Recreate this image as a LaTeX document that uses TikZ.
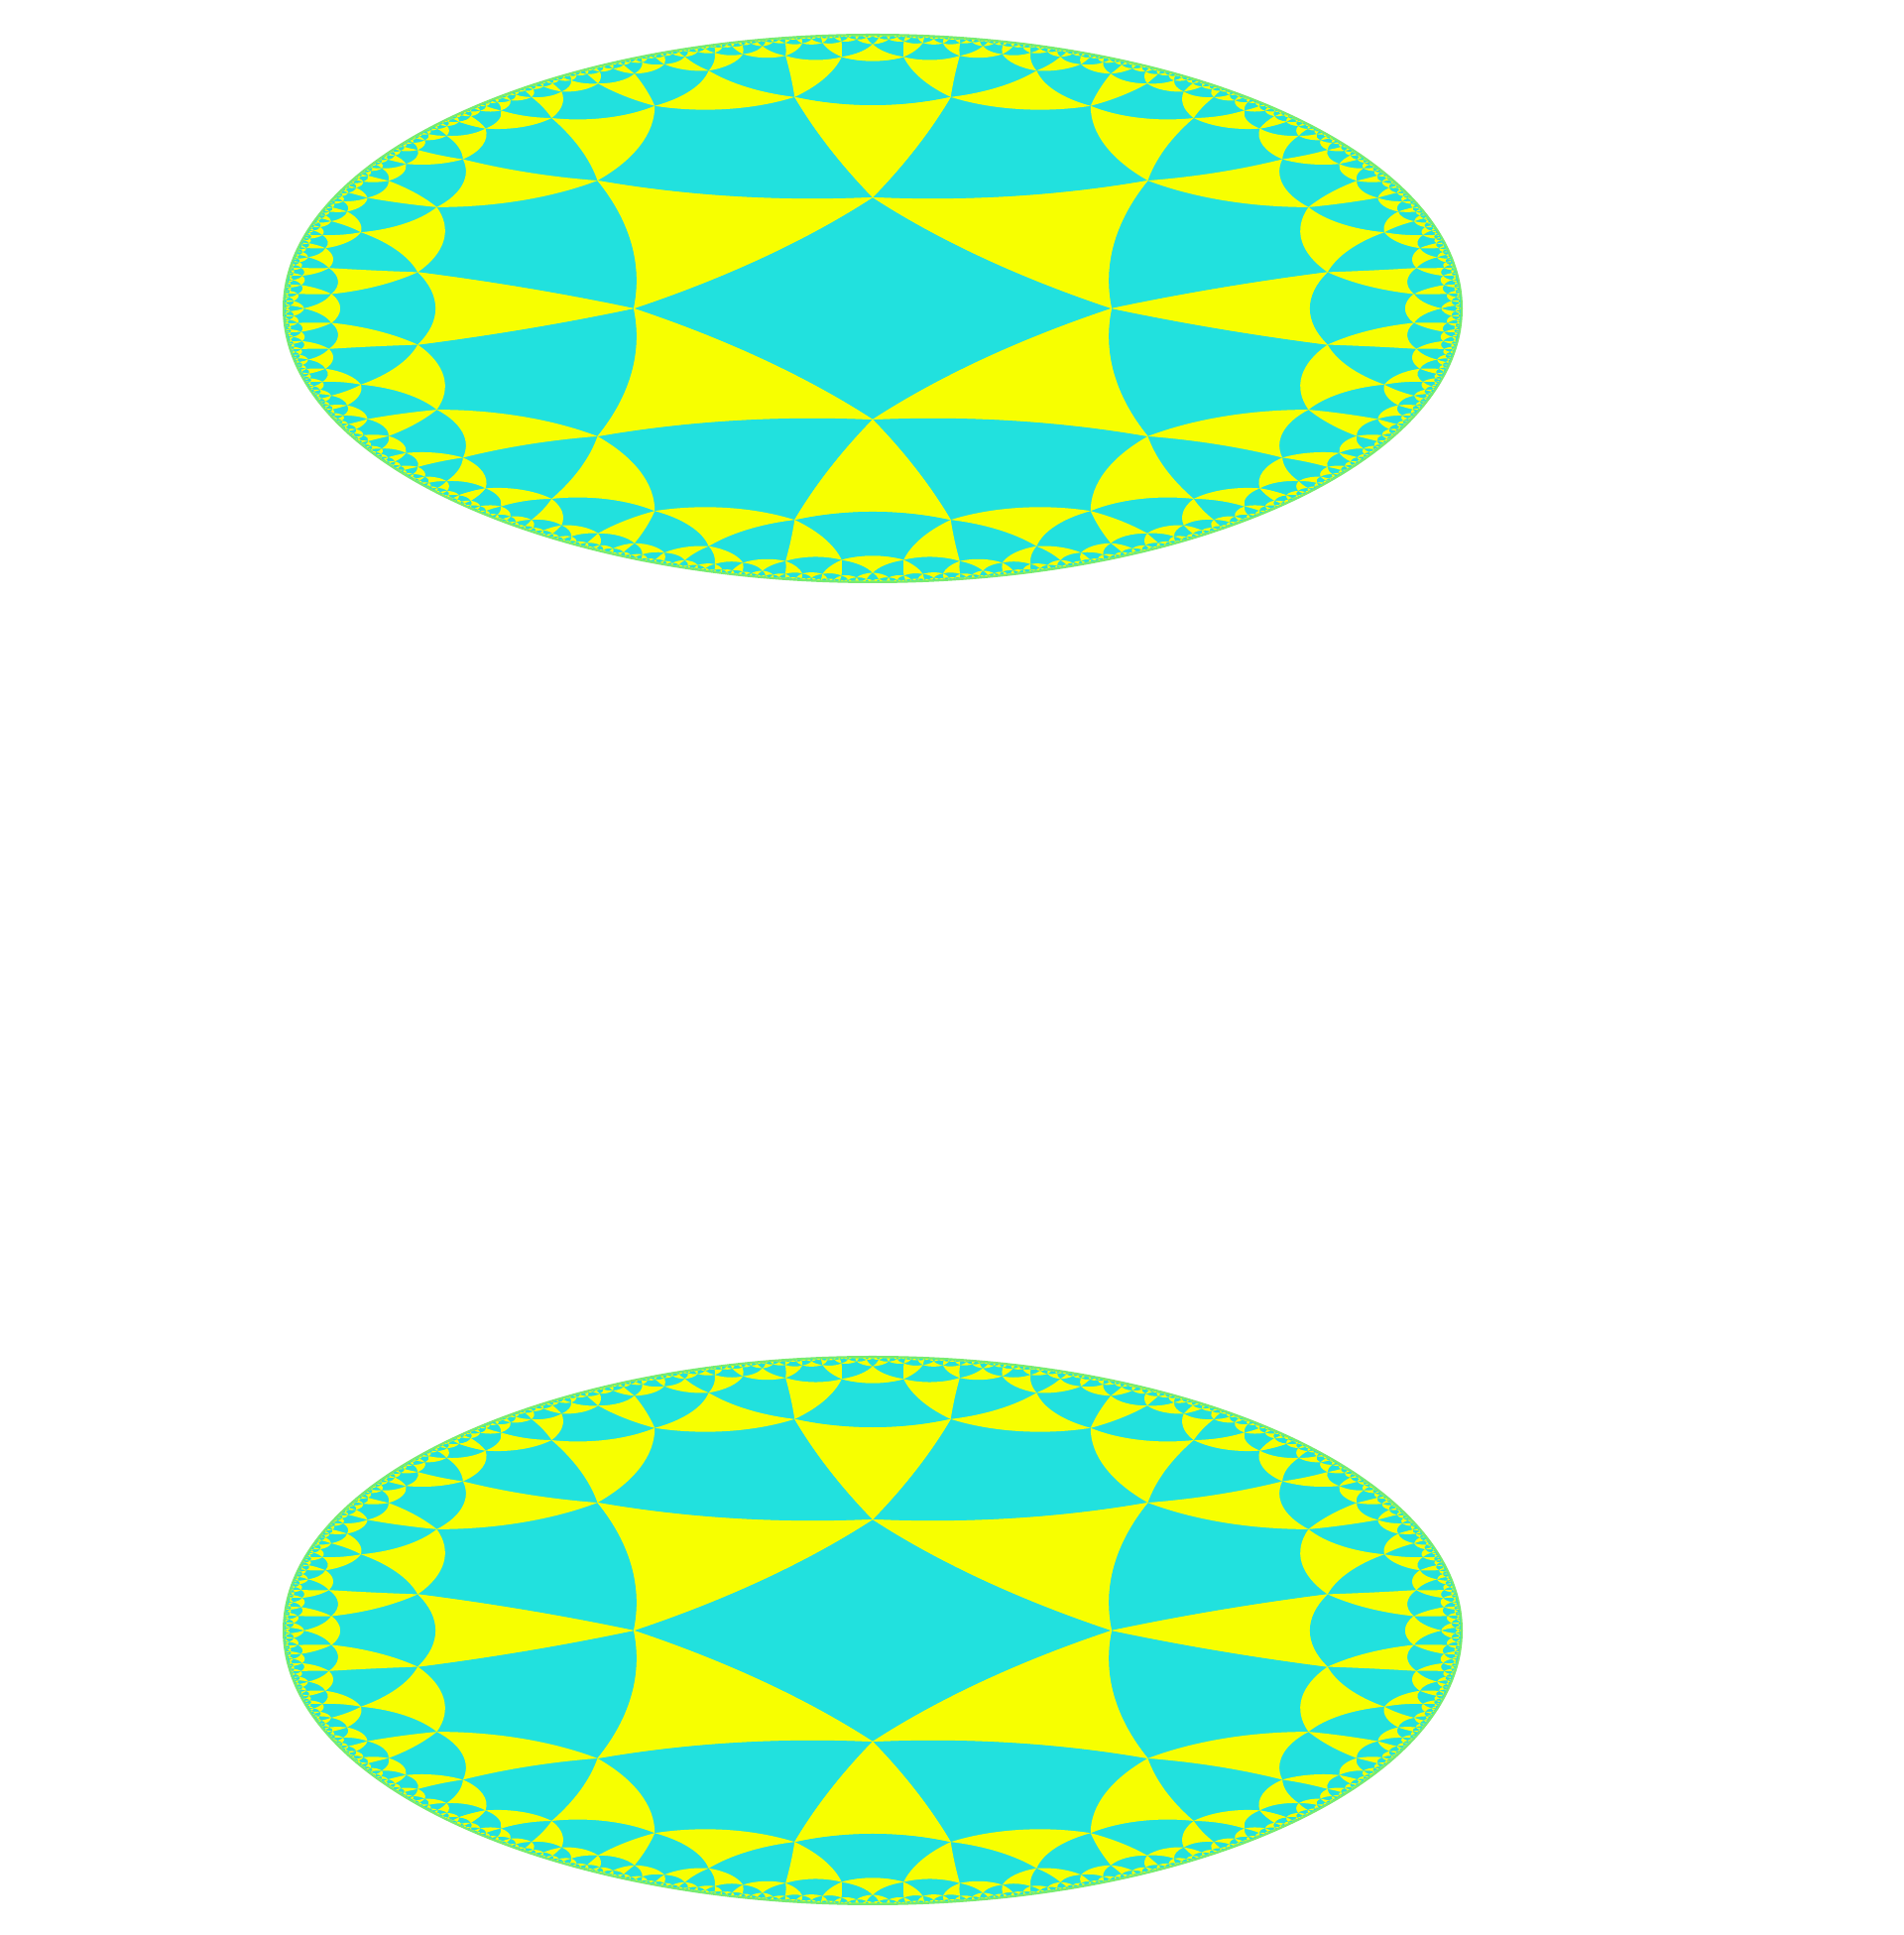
\documentclass[tikz,border=0pt]{standalone}
\definecolor{tcyan}{RGB}{33,225,222}
\definecolor{tyellow}{RGB}{247,255,0}
\definecolor{tedge}{RGB}{120,235,112}
\ExplSyntaxOn
\int_new:N \g_ht_head_int
\int_new:N \g_ht_tail_int
\int_new:N \g_ht_tri_int
\int_new:N \l_ht_m_int
\int_new:N \l_ht_nm_int
\fp_new:N \l_ht_cx_fp
\fp_new:N \l_ht_cy_fp
\fp_new:N \l_ht_det_fp
\fp_new:N \l_ht_gx_fp
\fp_new:N \l_ht_gy_fp
\fp_new:N \l_ht_s_fp
\fp_new:N \l_ht_t_fp
\fp_new:N \l_ht_ux_fp
\fp_new:N \l_ht_uy_fp
\fp_new:N \l_ht_vx_fp
\fp_new:N \l_ht_vy_fp
\fp_new:N \l_ht_wx_fp
\fp_new:N \l_ht_wy_fp
\fp_new:N \l_ht_k_fp
\bool_new:N \l_ht_line_bool
\tl_new:N \l_ht_key_tl
\tl_new:N \l_ht_path_tl
\tl_new:N \l_ht_r_tl
\fp_const:Nn \c_ht_epsq_fp {0.0025*0.0025}
\fp_const:Nn \c_ht_c_fp { (cos(pi/3) + cos(pi/4)*cos(pi/3)) / (sin(pi/4)*sin(pi/3)) }
\fp_const:Nn \c_ht_b_fp { 2*atan(1/\c_ht_c_fp) }
\fp_const:Nn \c_ht_a_fp { 2*pi/3 - \c_ht_b_fp }
\fp_const:Nn \c_ht_ca_fp { cos(\c_ht_a_fp) }
\fp_const:Nn \c_ht_sa_fp { sin(\c_ht_a_fp) }
\fp_const:Nn \c_ht_cb_fp { cos(\c_ht_b_fp) }
\fp_const:Nn \c_ht_sb_fp { sin(\c_ht_b_fp) }
\int_step_inline:nn {4}
 {
   \tl_new:c {l_ht_x#1_tl} \tl_new:c {l_ht_y#1_tl}
   \tl_new:c {l_ht_nx#1_tl} \tl_new:c {l_ht_ny#1_tl}
 }
\cs_new:Npn \ht_r:n #1 { \fp_to_decimal:n { round( #1 , 5 ) } }
% geodesic circle through (#1,#2) and (#3,#4)
\cs_new_protected:Npn \ht_geod:nnnn #1#2#3#4
 {
   \fp_set:Nn \l_ht_det_fp { (#1)*(#4) - (#2)*(#3) }
   \fp_compare:nNnTF { abs(\l_ht_det_fp) } < { 1e-9 }
     { \bool_set_true:N \l_ht_line_bool }
     {
       \bool_set_false:N \l_ht_line_bool
       \fp_set:Nn \l_ht_cx_fp
         { ( (1 + (#1)*(#1) + (#2)*(#2))/2 * (#4) - (1 + (#3)*(#3) + (#4)*(#4))/2 * (#2) ) / \l_ht_det_fp }
       \fp_set:Nn \l_ht_cy_fp
         { ( (#1) * (1 + (#3)*(#3) + (#4)*(#4))/2 - (#3) * (1 + (#1)*(#1) + (#2)*(#2))/2 ) / \l_ht_det_fp }
     }
 }
% hyperbolic rotation of (#3,#4) about (#1,#2); cos #5, sin #6; result -> new vertex #7
\cs_new_protected:Npn \ht_rot:nnnnnnn #1#2#3#4#5#6#7
 {
   \fp_set:Nn \l_ht_ux_fp { (#3) - (#1) }
   \fp_set:Nn \l_ht_uy_fp { (#4) - (#2) }
   \fp_set:Nn \l_ht_vx_fp { 1 - (#1)*(#3) - (#2)*(#4) }
   \fp_set:Nn \l_ht_vy_fp { (#2)*(#3) - (#1)*(#4) }
   \fp_set:Nn \l_ht_t_fp { \l_ht_vx_fp*\l_ht_vx_fp + \l_ht_vy_fp*\l_ht_vy_fp }
   \fp_set:Nn \l_ht_wx_fp { (\l_ht_ux_fp*\l_ht_vx_fp + \l_ht_uy_fp*\l_ht_vy_fp)/\l_ht_t_fp }
   \fp_set:Nn \l_ht_wy_fp { (\l_ht_uy_fp*\l_ht_vx_fp - \l_ht_ux_fp*\l_ht_vy_fp)/\l_ht_t_fp }
   \fp_set:Nn \l_ht_ux_fp { (#5)*\l_ht_wx_fp - (#6)*\l_ht_wy_fp }
   \fp_set:Nn \l_ht_uy_fp { (#6)*\l_ht_wx_fp + (#5)*\l_ht_wy_fp }
   \fp_set:Nn \l_ht_vx_fp { 1 + (#1)*\l_ht_ux_fp + (#2)*\l_ht_uy_fp }
   \fp_set:Nn \l_ht_vy_fp { (#1)*\l_ht_uy_fp - (#2)*\l_ht_ux_fp }
   \fp_set:Nn \l_ht_wx_fp { \l_ht_ux_fp + (#1) }
   \fp_set:Nn \l_ht_wy_fp { \l_ht_uy_fp + (#2) }
   \fp_set:Nn \l_ht_t_fp { \l_ht_vx_fp*\l_ht_vx_fp + \l_ht_vy_fp*\l_ht_vy_fp }
   \tl_set:cx {l_ht_nx#7_tl}
     { \fp_eval:n { (\l_ht_wx_fp*\l_ht_vx_fp + \l_ht_wy_fp*\l_ht_vy_fp)/\l_ht_t_fp } }
   \tl_set:cx {l_ht_ny#7_tl}
     { \fp_eval:n { (\l_ht_wy_fp*\l_ht_vx_fp - \l_ht_wx_fp*\l_ht_vy_fp)/\l_ht_t_fp } }
 }
\cs_new_protected:Npn \ht_store:
 {
   \tl_gset:cn { g_ht_key_ \l_ht_key_tl } { }
   \int_gincr:N \g_ht_tail_int
   \tl_gset:cx { g_ht_f \int_use:N \g_ht_tail_int _m } { \int_use:N \l_ht_nm_int }
   \int_step_inline:nn { \l_ht_nm_int }
     {
       \tl_gset_eq:cc { g_ht_f \int_use:N \g_ht_tail_int _x ##1 } { l_ht_nx##1_tl }
       \tl_gset_eq:cc { g_ht_f \int_use:N \g_ht_tail_int _y ##1 } { l_ht_ny##1_tl }
     }
 }
% neighbour across ccw edge #1 -> #2
\cs_new_protected:Npn \ht_neighbor:nn #1#2
 {
   \tl_set_eq:cc {l_ht_nx1_tl} {l_ht_x#2_tl}
   \tl_set_eq:cc {l_ht_ny1_tl} {l_ht_y#2_tl}
   \tl_set_eq:cc {l_ht_nx2_tl} {l_ht_x#1_tl}
   \tl_set_eq:cc {l_ht_ny2_tl} {l_ht_y#1_tl}
   \int_compare:nNnTF { \l_ht_m_int } = { 4 }
     {
       \int_set:Nn \l_ht_nm_int {3}
       \ht_rot:nnnnnnn
         { \tl_use:c {l_ht_x#1_tl} } { \tl_use:c {l_ht_y#1_tl} }
         { \tl_use:c {l_ht_x#2_tl} } { \tl_use:c {l_ht_y#2_tl} }
         { \c_ht_ca_fp } { -\c_ht_sa_fp } {3}
     }
     {
       \int_set:Nn \l_ht_nm_int {4}
       \ht_rot:nnnnnnn
         { \tl_use:c {l_ht_x#1_tl} } { \tl_use:c {l_ht_y#1_tl} }
         { \tl_use:c {l_ht_x#2_tl} } { \tl_use:c {l_ht_y#2_tl} }
         { \c_ht_cb_fp } { -\c_ht_sb_fp } {3}
       \ht_rot:nnnnnnn
         { \tl_use:c {l_ht_x#2_tl} } { \tl_use:c {l_ht_y#2_tl} }
         { \tl_use:c {l_ht_x#1_tl} } { \tl_use:c {l_ht_y#1_tl} }
         { \c_ht_cb_fp } { \c_ht_sb_fp } {4}
     }
   \fp_zero:N \l_ht_gx_fp
   \fp_zero:N \l_ht_gy_fp
   \int_step_inline:nn { \l_ht_nm_int }
     {
       \fp_set:Nn \l_ht_gx_fp { \l_ht_gx_fp + (\tl_use:c {l_ht_nx##1_tl}) }
       \fp_set:Nn \l_ht_gy_fp { \l_ht_gy_fp + (\tl_use:c {l_ht_ny##1_tl}) }
     }
   \fp_set:Nn \l_ht_gx_fp { \l_ht_gx_fp / \int_use:N \l_ht_nm_int }
   \fp_set:Nn \l_ht_gy_fp { \l_ht_gy_fp / \int_use:N \l_ht_nm_int }
   \fp_compare:nT { \l_ht_gy_fp > -0.000001 && \l_ht_gy_fp < \l_ht_gx_fp + 0.000001 }
     {
       \tl_set:Nx \l_ht_key_tl
         { \fp_to_decimal:n { round(\l_ht_gx_fp + 10, 4) } : \fp_to_decimal:n { round(\l_ht_gy_fp + 10, 4) } }
       \cs_if_exist:cF { g_ht_key_ \l_ht_key_tl }
         {
           \fp_zero:N \l_ht_s_fp
           \int_step_inline:nn { \l_ht_nm_int }
             {
               \fp_set:Nn \l_ht_s_fp
                 { max( \l_ht_s_fp , ( (\tl_use:c {l_ht_nx##1_tl}) - \l_ht_gx_fp )^2 + ( (\tl_use:c {l_ht_ny##1_tl}) - \l_ht_gy_fp )^2 ) }
             }
           \fp_compare:nNnF { \l_ht_s_fp } < { \c_ht_epsq_fp }
             { \int_compare:nNnT { \g_ht_tail_int } < { 1500 } { \ht_store: } }
         }
     }
 }
\cs_new_protected:Npn \ht_seg:nn #1#2
 {
   \ht_geod:nnnn { \tl_use:c {l_ht_x#1_tl} } { \tl_use:c {l_ht_y#1_tl} }
                 { \tl_use:c {l_ht_x#2_tl} } { \tl_use:c {l_ht_y#2_tl} }
   \bool_if:NTF \l_ht_line_bool
     {
       \tl_put_right:Nx \l_ht_path_tl
         { ~ -- ~ ( \ht_r:n { \tl_use:c {l_ht_x#2_tl} } , \ht_r:n { \tl_use:c {l_ht_y#2_tl} } ) }
     }
     {
       \fp_set:Nn \l_ht_ux_fp { (\tl_use:c {l_ht_x#1_tl}) - \l_ht_cx_fp }
       \fp_set:Nn \l_ht_uy_fp { (\tl_use:c {l_ht_y#1_tl}) - \l_ht_cy_fp }
       \fp_set:Nn \l_ht_vx_fp { (\tl_use:c {l_ht_x#2_tl}) - \l_ht_cx_fp }
       \fp_set:Nn \l_ht_vy_fp { (\tl_use:c {l_ht_y#2_tl}) - \l_ht_cy_fp }
       \fp_set:Nn \l_ht_k_fp
         { 4/3 * tan( atan( \l_ht_ux_fp * \l_ht_vy_fp - \l_ht_uy_fp * \l_ht_vx_fp ,
                            \l_ht_ux_fp * \l_ht_vx_fp + \l_ht_uy_fp * \l_ht_vy_fp ) / 4 ) }
       \tl_put_right:Nx \l_ht_path_tl
         {
           ~ .. ~ controls ~
           ( \ht_r:n { (\tl_use:c {l_ht_x#1_tl}) - \l_ht_k_fp * \l_ht_uy_fp } ,
             \ht_r:n { (\tl_use:c {l_ht_y#1_tl}) + \l_ht_k_fp * \l_ht_ux_fp } )
           ~ and ~
           ( \ht_r:n { (\tl_use:c {l_ht_x#2_tl}) + \l_ht_k_fp * \l_ht_vy_fp } ,
             \ht_r:n { (\tl_use:c {l_ht_y#2_tl}) - \l_ht_k_fp * \l_ht_vx_fp } )
           ~ .. ~
           ( \ht_r:n { \tl_use:c {l_ht_x#2_tl} } , \ht_r:n { \tl_use:c {l_ht_y#2_tl} } )
         }
     }
 }
\cs_new_protected:Npn \ht_record_tri:
 {
   \tl_set:Nx \l_ht_path_tl
     { ( \ht_r:n { \tl_use:c {l_ht_x1_tl} } , \ht_r:n { \tl_use:c {l_ht_y1_tl} } ) }
   \ht_seg:nn {1}{2}
   \ht_seg:nn {2}{3}
   \ht_seg:nn {3}{1}
   \int_gincr:N \g_ht_tri_int
   \tl_gset_eq:cN { g_ht_tri_ \int_use:N \g_ht_tri_int } \l_ht_path_tl
 }
\cs_new_protected:Npn \ht_process:n #1
 {
   \int_set:Nn \l_ht_m_int { \tl_use:c {g_ht_f#1_m} }
   \int_step_inline:nn { \l_ht_m_int }
     {
       \tl_set_eq:cc {l_ht_x##1_tl} {g_ht_f#1_x##1}
       \tl_set_eq:cc {l_ht_y##1_tl} {g_ht_f#1_y##1}
     }
   \int_compare:nNnT { \l_ht_m_int } = { 3 } { \ht_record_tri: }
   \int_step_inline:nn { \l_ht_m_int }
     { \ht_neighbor:nn {##1} { \int_eval:n { \int_mod:nn {##1} {\l_ht_m_int} + 1 } } }
 }
\cs_new_protected:Npn \ht_build:
 {
   \tl_set:Nx \l_ht_r_tl { \fp_eval:n { sqrt( (\c_ht_c_fp - 1)/(\c_ht_c_fp + 1) ) } }
   \int_gset:Nn \g_ht_tail_int {1}
   \tl_gset:cn {g_ht_f1_m} {4}
   \tl_gset:cx {g_ht_f1_x1} {\l_ht_r_tl}
   \tl_gset:cn {g_ht_f1_y1} {0}
   \tl_gset:cn {g_ht_f1_x2} {0}
   \tl_gset:cx {g_ht_f1_y2} {\l_ht_r_tl}
   \tl_gset:cx {g_ht_f1_x3} {-\l_ht_r_tl}
   \tl_gset:cn {g_ht_f1_y3} {0}
   \tl_gset:cn {g_ht_f1_x4} {0}
   \tl_gset:cx {g_ht_f1_y4} {-\l_ht_r_tl}
   \tl_set:Nx \l_ht_key_tl
     { \fp_to_decimal:n { round(0 + 10, 4) } : \fp_to_decimal:n { round(0 + 10, 4) } }
   \tl_gset:cn { g_ht_key_ \l_ht_key_tl } { }
   \int_gset:Nn \g_ht_head_int {0}
   \int_do_while:nNnn { \g_ht_head_int } < { \g_ht_tail_int }
     {
       \int_gincr:N \g_ht_head_int
       \exp_args:NV \ht_process:n \g_ht_head_int
     }
 }
\cs_new_protected:Npn \ht_draw:
 {
   \int_step_inline:nn { \g_ht_tri_int }
     { \exp_last_unbraced:Nv \fill { g_ht_tri_##1 } ; }
 }
\ht_build:
\NewDocumentCommand \DrawHypTiles { } { \ht_draw: }
\ExplSyntaxOff
\begin{document}
\begin{tikzpicture}
\useasboundingbox (0,0) rectangle (19.2,19.51);
\foreach \cy in {16.40,3.07}{
  \begin{scope}[shift={(8.80,\cy)}, xscale=5.94, yscale=2.76]
    \fill[tcyan] (0,0) circle (1);
    \foreach \r in {0,90,180,270}{
      \begin{scope}[rotate=\r, fill=tyellow]
        \DrawHypTiles
        \begin{scope}[yscale=-1]
          \DrawHypTiles
        \end{scope}
      \end{scope}
    }
    \draw[tedge, line width=0.02cm] (0,0) circle (1);
  \end{scope}
}
\end{tikzpicture}
\end{document}
